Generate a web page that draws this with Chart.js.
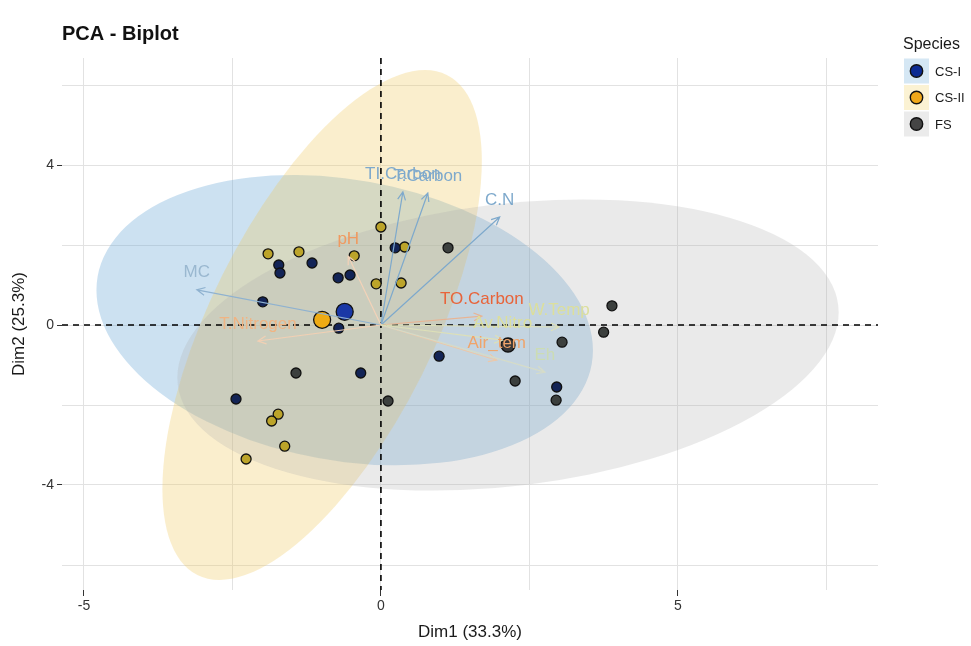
<!DOCTYPE html>
<html>
<head>
<meta charset="utf-8">
<script src="https://cdn.jsdelivr.net/npm/chart.js@4.4.1/dist/chart.umd.min.js"></script>
<style>
body { margin: 0; background: #fff; }
</style>
</head>
<body>
<canvas id="chart" width="971" height="646"></canvas>
<script>

// individuals (Dim1, Dim2)
var csIX = [-1.99, -1.72, -1.70, -1.16, -0.72, -0.52, 0.24, -0.71, -0.34, -2.44, 0.98, 2.96];
var csIY = [0.58, 1.50, 1.30, 1.55, 1.18, 1.25, 1.93, -0.08, -1.20, -1.85, -0.78, -1.55];
var csIIX = [-1.90, -1.38, -0.45, 0.00, 0.40, -0.08, 0.34, -1.73, -1.84, -1.62, -2.27];
var csIIY = [1.78, 1.83, 1.73, 2.45, 1.95, 1.03, 1.05, -2.23, -2.40, -3.03, -3.35];
var fsX = [1.13, 3.89, 3.75, 3.05, 2.26, 2.95, -1.43, 0.12];
var fsY = [1.93, 0.48, -0.18, -0.43, -1.40, -1.88, -1.20, -1.90];

// group means
var groups = ['CS-I', 'CS-II', 'FS'];
var meanX = [-0.61, -0.99, 2.14];
var meanY = [0.33, 0.13, -0.50];

// concentration ellipses: centre and two conjugate half axes
var ellCX = [-0.61, -0.99, 2.14];
var ellCY = [0.12, 0.00, -0.50];
var ellAX = [4.18, 2.10, 5.56];
var ellAY = [-0.75, 6.25, 1.00];
var ellBX = [0.00, -1.68, -0.29];
var ellBY = [3.55, 1.25, 3.50];

// variable arrows
var varNames = ['MC', 'TI.Carbon', 'T.Carbon', 'C.N', 'pH', 'TO.Carbon', 'T.Nitrogen', 'Air_tem', 'Eh', 'Av.Nitro', 'W.Temp'];
var varX = [-3.10, 0.37, 0.79, 2.00, -0.55, 1.70, -2.07, 1.95, 2.76, 2.05, 3.00];
var varY = [0.88, 3.33, 3.30, 2.70, 1.72, 0.22, -0.40, -0.88, -1.18, -0.38, -0.05];

var xTicks = [-5, 0, 5];
var yTicks = [-4, 0, 4];

// styles
var ptColor = ['#132456', '#bca42a', '#3c403e'];
var meanColor = ['#1a38a6', '#eeab14', '#383838'];
var keyColor = ['#0b2a92', '#f0a81a', '#454545'];
var ellFill = ['rgba(110,170,215,0.35)', 'rgba(240,200,90,0.30)', 'rgba(170,170,170,0.25)'];
var keyFill = ['#d5e7f4', '#fbf2d3', '#ebebeb'];
var varLine = ['#8fb2d0', '#7ea9cc', '#7ea9cc', '#7ea9cc', '#f3d2b8', '#e8b494', '#f2d0b4', '#ecc8aa', '#d6dcc8', '#dde0b8', '#dde0b8'];
var varText = ['#9ab8d0', '#7ea9cc', '#7ea9cc', '#7ea9cc', '#f09a60', '#e8643a', '#f0b483', '#f0a46a', '#ccdcb4', '#dcdf9c', '#dcdf9c'];

var font = '"Liberation Sans", Arial, sans-serif';

function pts(xs, ys) {
	return xs.map(function (v, i) { return { x: v, y: ys[i] }; });
}

var biplot = {
	id: 'biplot',
	beforeDatasetsDraw: function (chart) {
		var c = chart.ctx, a = chart.chartArea;
		var xs = chart.scales.x, ys = chart.scales.y;
		var kx = xs.getPixelForValue(1) - xs.getPixelForValue(0);
		var ky = ys.getPixelForValue(1) - ys.getPixelForValue(0);
		c.save();
		c.beginPath();
		c.rect(a.left, a.top, a.right - a.left, a.bottom - a.top);
		c.clip();
		for (var i = 0; i < ellCX.length; i++) {
			c.save();
			c.transform(ellAX[i] * kx, ellAY[i] * ky, ellBX[i] * kx, ellBY[i] * ky,
				xs.getPixelForValue(ellCX[i]), ys.getPixelForValue(ellCY[i]));
			c.beginPath();
			c.arc(0, 0, 1, 0, Math.PI * 2);
			c.restore();
			c.fillStyle = ellFill[i];
			c.fill();
		}
		c.restore();

		// dashed zero lines
		c.save();
		c.strokeStyle = '#000';
		c.lineWidth = 1.6;
		c.setLineDash([6, 5]);
		var y0 = ys.getPixelForValue(0), x0 = xs.getPixelForValue(0);
		c.beginPath();
		c.moveTo(a.left, y0); c.lineTo(a.right, y0);
		c.moveTo(x0, a.top); c.lineTo(x0, a.bottom);
		c.stroke();
		c.restore();
	},
	afterDatasetsDraw: function (chart) {
		var c = chart.ctx;
		var xs = chart.scales.x, ys = chart.scales.y;
		var ox = xs.getPixelForValue(0), oy = ys.getPixelForValue(0);
		c.save();
		c.lineWidth = 1.2;
		for (var i = 0; i < varNames.length; i++) {
			var tx = xs.getPixelForValue(varX[i]), ty = ys.getPixelForValue(varY[i]);
			var ang = Math.atan2(ty - oy, tx - ox);
			c.strokeStyle = varLine[i];
			c.beginPath();
			c.moveTo(ox, oy); c.lineTo(tx, ty);
			c.moveTo(tx - 9 * Math.cos(ang - 0.45), ty - 9 * Math.sin(ang - 0.45));
			c.lineTo(tx, ty);
			c.lineTo(tx - 9 * Math.cos(ang + 0.45), ty - 9 * Math.sin(ang + 0.45));
			c.stroke();
		}
		c.font = '17px ' + font;
		c.textAlign = 'center';
		c.textBaseline = 'middle';
		for (var j = 0; j < varNames.length; j++) {
			c.fillStyle = varText[j];
			c.fillText(varNames[j], xs.getPixelForValue(varX[j]), ys.getPixelForValue(varY[j]) - 17);
		}
		c.restore();
	},
	afterDraw: function (chart) {
		// legend
		var c = chart.ctx;
		c.save();
		c.fillStyle = '#1a1a1a';
		c.font = '16px ' + font;
		c.textBaseline = 'middle';
		c.fillText('Species', 903, 45);
		c.font = '13px ' + font;
		for (var i = 0; i < groups.length; i++) {
			var y = 71 + i * 26.5;
			c.fillStyle = keyFill[i];
			c.fillRect(904, y - 12.5, 25, 25);
			c.beginPath();
			c.arc(916.5, y, 6.2, 0, Math.PI * 2);
			c.fillStyle = keyColor[i];
			c.fill();
			c.strokeStyle = '#111';
			c.lineWidth = 1.4;
			c.stroke();
			c.fillStyle = '#1a1a1a';
			c.fillText(groups[i], 935, y + 1);
		}
		c.restore();
	}
};

function dataset(label, data, i, r, order) {
	return {
		label: label,
		data: data,
		backgroundColor: r > 6 ? meanColor[i] : ptColor[i],
		borderColor: '#111',
		borderWidth: 1.3,
		pointRadius: r,
		order: order
	};
}

var ctx = document.getElementById('chart');
var chart = new Chart(ctx, {
	type: 'scatter',
	data: {
		datasets: [
			dataset('CS-I', pts(csIX, csIY), 0, 5, 2),
			dataset('CS-II', pts(csIIX, csIIY), 1, 5, 2),
			dataset('FS', pts(fsX, fsY), 2, 5, 2),
			dataset('CS-I mean', [{ x: meanX[0], y: meanY[0] }], 0, 8.5, 1),
			dataset('CS-II mean', [{ x: meanX[1], y: meanY[1] }], 1, 8.5, 1),
			dataset('FS mean', [{ x: meanX[2], y: meanY[2] }], 2, 7, 1)
		]
	},
	options: {
		responsive: false,
		animation: false,
		layout: { padding: { right: 93, bottom: 0, left: 0, top: 0 } },
		plugins: {
			legend: { display: false },
			tooltip: { enabled: false },
			title: {
				display: true,
				text: 'PCA - Biplot',
				align: 'start',
				fullSize: false,
				color: '#111',
				font: { size: 20, weight: 'bold', family: font },
				padding: { top: 22, bottom: 12 }
			}
		},
		scales: {
			x: {
				type: 'linear',
				min: -5.37,
				max: 8.37,
				afterFit: function (s) { s.height = 56; },
				afterBuildTicks: function (s) {
					s.ticks = [-5, -2.5, 0, 2.5, 5, 7.5].map(function (v) { return { value: v }; });
				},
				ticks: {
					color: '#333',
					padding: 2,
					font: { size: 14, family: font },
					callback: function (v) { return xTicks.indexOf(v) >= 0 ? String(v) : ''; }
				},
				grid: {
					color: '#e2e2e2',
					lineWidth: 1,
					tickLength: 6,
					tickColor: function (c) { return xTicks.indexOf(c.tick.value) >= 0 ? '#333' : 'rgba(0,0,0,0)'; }
				},
				border: { display: false },
				title: {
					display: true,
					text: 'Dim1 (33.3%)',
					color: '#1a1a1a',
					font: { size: 17, family: font },
					padding: { top: 0, bottom: 3 }
				}
			},
			y: {
				type: 'linear',
				min: -6.625,
				max: 6.675,
				afterFit: function (s) { s.width = 62; },
				afterBuildTicks: function (s) {
					s.ticks = [-6, -4, -2, 0, 2, 4, 6].map(function (v) { return { value: v }; });
				},
				ticks: {
					color: '#333',
					padding: 3,
					font: { size: 14, family: font },
					callback: function (v) { return yTicks.indexOf(v) >= 0 ? String(v) : ''; }
				},
				grid: {
					color: '#e2e2e2',
					lineWidth: 1,
					tickLength: 5,
					tickColor: function (c) { return yTicks.indexOf(c.tick.value) >= 0 ? '#333' : 'rgba(0,0,0,0)'; }
				},
				border: { display: false },
				title: {
					display: true,
					text: 'Dim2 (25.3%)',
					color: '#1a1a1a',
					font: { size: 17, family: font },
					padding: { top: 9, bottom: 0 }
				}
			}
		}
	},
	plugins: [biplot]
});

</script>
</body>
</html>
